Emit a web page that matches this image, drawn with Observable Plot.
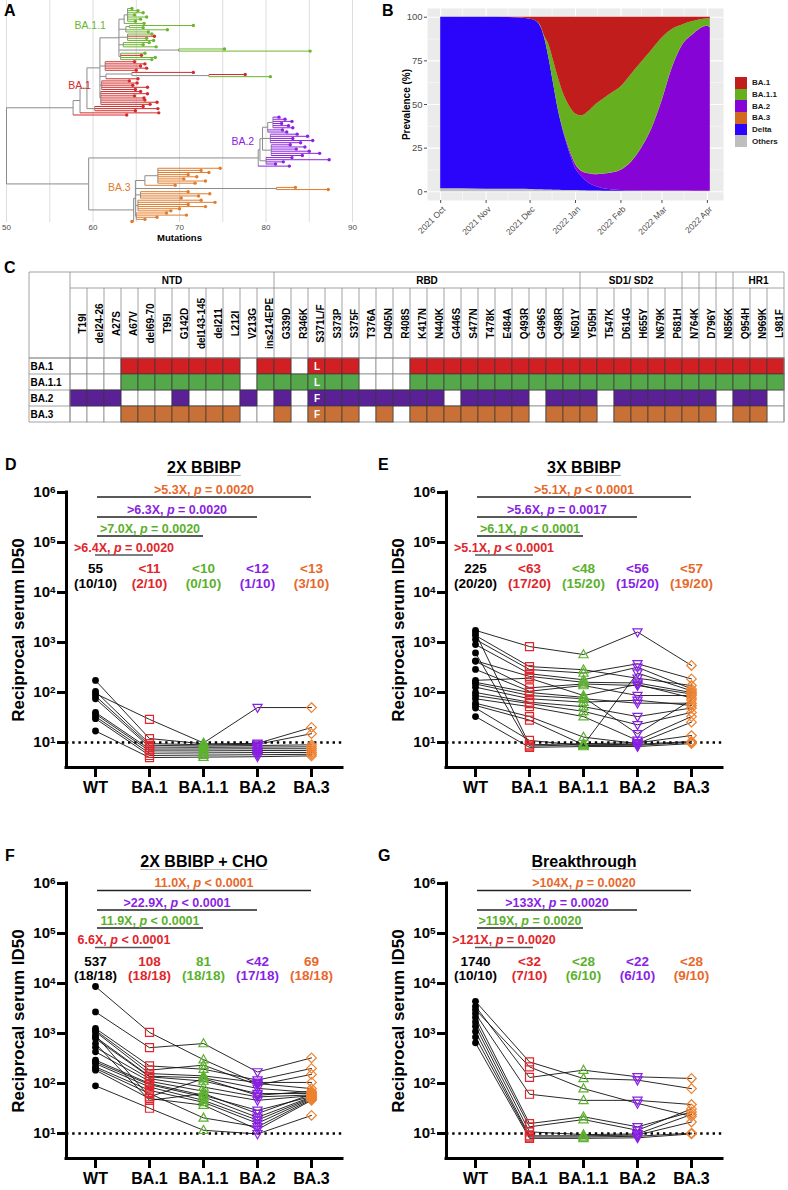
<!DOCTYPE html>
<html>
<head>
<meta charset="utf-8">
<script src="https://cdn.jsdelivr.net/npm/d3@7"></script>
<script src="https://cdn.jsdelivr.net/npm/@observablehq/plot@0.6"></script>
<style>
  html, body { margin: 0; padding: 0; background: #fff; }
  #page { position: relative; width: 788px; height: 1190px; overflow: hidden; font-family: "Liberation Sans", Arial, Helvetica, sans-serif; }
  .letter { position: absolute; font-weight: bold; font-size: 16px; line-height: 16px; color: #000; }
  .legend { position: absolute; left: 735px; top: 77px; }
  .legend .row { display: flex; align-items: center; height: 11.7px; }
  .legend .key { width: 12px; height: 11.7px; }
  .legend .lab { margin-left: 5px; font-size: 8px; font-weight: bold; color: #1a1a1a; }
</style>
</head>
<body>
<div id="page"></div>
<script>
const FONT = "'Liberation Sans', Arial, Helvetica, sans-serif";

// ================= DATA =================
// ---- Panel A: phylogeny (x = number of mutations; nested clades) ----
const TREE_BA11 = [63.0,
  [63.6, [64.0, 64.5, 65.2, 65.8, 64.8, 66.2, 65.5, 64.9], 65.9],
  [63.8, [64.2, 71.6, 65.8], 68.6, 66.4],
  [64.0, 66.8, {clade: "BA.1", t: 67.1}, 66.2, 67.0],
  [63.5, 66.5, 65.8, 67.3],
  [69.9, 75.2, 85.1],
  [63.2, 66.0, {clade: "BA.1", t: 65.6}, 67.2, 66.8]
];
const TREE_BA1 = [60.8,
  {clade: "BA.1.1", main: true, t: TREE_BA11},
  [61.4, 64.8, 66.0, 65.5, 66.2, 65.0],
  [61.5, [64.5, 71.6, [73.4, 77.6, {clade: "BA.1.1", t: 80.5}]], 65.2],
  [61.0, 64.2, 65.1, 64.6, 66.3, 64.9],
  [60.9, 65.5, 66.3, 64.8, 65.9, 66.0, 67.4, 66.6]
];
const TREE_BA2 = [79.1,
  [79.3,
    [79.6,
      [80.2, [80.8, 81.5, 82.2, 83.0, 81.8, 82.6, 83.1], 81.9, 82.4],
      [80.5, 83.6, 84.8, 83.1, 85.4, 84.0],
      [80.6, 82.8, 84.5, 83.5, 85.0, 86.2, 84.2]],
    [80.0, 83.0, 87.3, 82.0, 81.1]],
  82.7
];
const TREE_BA3 = [64.7,
  [64.9,
    [66.0, [67.5, 74.7, 72.5, 73.4, 71.0, 72.0, 70.5, 73.0, 71.8], 69.5],
    [65.8, [81.2, 83.4, 87.2]],
    [65.5, 71.0, 73.5, 72.2, 70.2],
    [65.2, 72.5, 74.1, 71.0, 73.0, 70.0, 69.0],
    [65.0, 68.5, 70.8, 67.4, 66.0]],
  64.5
];
const TREE = [50.0,
  [57.7,
    [58.5,
      [59.3, {clade: "BA.1", main: true, t: TREE_BA1}, {clade: "BA.1", t: [60.2, 65.8, 67.5, 64.9]}],
      {clade: "BA.1", t: 67.6}],
    {clade: "BA.1", t: 63.9}],
  [59.5, {clade: "BA.2", main: true, t: TREE_BA2}, {clade: "BA.3", main: true, t: TREE_BA3}]
];
const MUT_TICKS = [50, 60, 70, 80, 90];
const MUT_GRID = [50, 55, 60, 65, 70, 75, 80, 85, 90];

// ---- Panel B: prevalence (%) ----
const B_DATES = ["2021-10-01","2021-10-15","2021-11-01","2021-11-15","2021-11-25","2021-12-01","2021-12-05","2021-12-08","2021-12-11","2021-12-14","2021-12-17","2021-12-20","2021-12-23","2021-12-26","2021-12-29","2022-01-01","2022-01-05","2022-01-10","2022-01-15","2022-01-20","2022-01-25","2022-02-01","2022-02-08","2022-02-15","2022-02-22","2022-03-01","2022-03-08","2022-03-15","2022-03-22","2022-04-01","2022-04-03"];
const B_OTHERS = [1.8,1.7,1.5,1.5,1.4,1.3,1.2,1.1,1.0,1.0,0.9,0.9,0.8,0.8,0.7,0.7,0.6,0.5,0.4,0.3,0.3,0.3,0.3,0.3,0.3,0.3,0.3,0.3,0.3,0.3,0.3];
const B_DELTA  = [98.2,98.3,98.5,98.4,98.2,97.5,96.6,93.9,87.0,75.0,61.1,47.1,36.2,27.2,19.3,12.8,8.4,4.5,2.6,1.5,0.9,0.5,0.3,0.2,0.2,0.1,0.1,0.1,0,0,0];
const B_BA2    = [0,0,0,0,0,0,0,0,0,0,0,0.3,0.5,1.1,1.7,2.3,2.8,5.3,6.8,8.2,9.4,11.5,16.2,24.3,35.3,51.4,70.4,83.4,89.5,94.5,93.5];
const B_BA3    = [0,0,0,0,0,0,0,0,0,0,0,0,0.1,0.1,0.1,0.2,0.2,0.2,0.2,0.2,0.2,0.2,0.2,0.2,0.2,0.2,0.2,0.2,0.2,0.2,0.2];
const B_BA11   = [0,0,0,0,0,0,0,0.5,1.0,8.0,13.0,17.7,20.4,22.8,25.7,28.5,31.5,35.5,40.0,42.8,45.2,47.5,50.0,49.0,45.0,36.0,22.0,11.5,7.5,4.0,5.0];
const B_BA1    = [0,0,0,0.1,0.4,1.2,2.2,4.5,11.0,16.0,25.0,34.0,42.0,48.0,52.5,55.5,56.5,54.0,50.0,47.0,44.0,40.0,33.0,26.0,19.0,12.0,7.0,4.5,2.5,1.0,1.0];
const B_STACK = ["Others","Delta","BA.2","BA.3","BA.1.1","BA.1"];
const B_LEGEND = ["BA.1","BA.1.1","BA.2","BA.3","Delta","Others"];
const B_MONTHS = ["2021-10-01","2021-11-01","2021-12-01","2022-01-01","2022-02-01","2022-03-01","2022-04-01"];
const B_MINOR = ["2021-10-16","2021-11-16","2021-12-16","2022-01-16","2022-02-15","2022-03-16"];

// ---- Panel C: spike mutations ----
const MUTATIONS = ["T19I","del24-26","A27S","A67V","del69-70","T95I","G142D","del143-145","del211","L212I","V213G","ins214EPE",
  "G339D","R346K","S371L/F","S373P","S375F","T376A","D405N","R408S","K417N","N440K","G446S","S477N","T478K","E484A","Q493R","G496S","Q498R","N501Y",
  "Y505H","T547K","D614G","H655Y","N679K","P681H","N764K","D796Y","N856K","Q954H","N969K","L981F"];
const REGIONS = ["NTD","RBD","SD1/ SD2","","","","HR1"];
const REGION_SIZES = [12, 18, 6, 1, 1, 1, 3];
const TBL_ROWS = ["BA.1","BA.1.1","BA.2","BA.3"];
const TBL_BA1  = "000111111101" + "101110001111111111" + "111111" + "111" + "111";
const TBL_BA11 = "000111111101" + "111110001111111111" + "111111" + "111" + "111";
const TBL_BA2  = "111000100010" + "101111111101111011" + "101111" + "110" + "110";
const TBL_BA3  = "000111111100" + "101110101111111011" + "101111" + "110" + "110";
const TBL_S371 = ["L","L","F","F"];

// ---- Panels D-G: reciprocal serum ID50 ----
const VARIANTS = ["WT","BA.1","BA.1.1","BA.2","BA.3"];
const D_WT   = [95, 174, 105, 85, 75, 40, 37, 33, 30, 17];
const D_BA1  = [29, 12, 9.5, 8.8, 8.1, 7.4, 6.8, 6.1, 5.5, 5.0];
const D_BA11 = [9.8, 9.4, 9.0, 8.5, 8.0, 7.4, 6.8, 6.2, 5.6, 5.1];
const D_BA2  = [50, 9.6, 9.2, 8.7, 8.1, 7.5, 6.9, 6.3, 5.7, 5.2];
const D_BA3  = [50, 20, 15, 9.0, 8.2, 7.5, 6.9, 6.3, 5.8, 5.4];
const D_GMT  = ["55","<11","<10","<12","<13"];
const D_POS  = ["(10/10)","(2/10)","(0/10)","(1/10)","(3/10)"];
const D_FOLD = [">6.4X",">7.0X",">6.3X",">5.3X"];
const D_P    = ["= 0.0020","= 0.0020","= 0.0020","= 0.0020"];

const E_WT   = [1750,1550,1380,1150,910,620,430,420,290,175,160,148,128,100,87,75,61,55,49,33];
const E_BA1  = [830,9,330,288,237,8.5,210,124,106,193,100,87,75,64,60,52,33,28,11,8];
const E_BA11 = [575,9.5,285,245,180,9,160,148,138,87,80,75,64,52,42,33,12.8,9,8.7,8.3];
const E_BA2  = [1620,9.8,193,375,320,245,155,138,87,145,14.9,61,70,33,22.6,11,9.5,9.2,8.8,8.3];
const E_BA3  = [347,13.8,138,187,118,108,100,93,87,78,71,61,55,49,40,33,25.5,10.5,10.1,9.5];
const E_GMT  = ["225","<63","<48","<56","<57"];
const E_POS  = ["(20/20)","(17/20)","(15/20)","(15/20)","(19/20)"];
const E_FOLD = [">5.1X",">6.1X",">5.6X",">5.1X"];
const E_P    = ["< 0.0001","< 0.0001","= 0.0017","< 0.0001"];

const F_WT   = [8700,2700,1260,1150,1080,930,850,790,630,530,430,293,270,250,215,200,185,90];
const F_BA1  = [1050,520,225,185,158,54,140,136,46,125,111,100,95,85,73,63,50,32];
const F_BA11 = [300,630,193,233,142,125,130,112,63,85,70,58,54,46,42,20.5,37,11.6];
const F_BA2  = [100,170,117,93,105,58,80,63,25,54,46,29,21,18.5,16,13.6,12,9.8];
const F_BA3  = [79,325,200,152,105,70,66,63,61,59,57,55,54,52,50,48,46,23];
const F_GMT  = ["537","108","81","<42","69"];
const F_POS  = ["(18/18)","(18/18)","(18/18)","(17/18)","(18/18)"];
const F_FOLD = ["6.6X","11.9X",">22.9X","11.0X"];
const F_P    = ["< 0.0001","< 0.0001","< 0.0001","< 0.0001"];

const G_WT   = [4400,3500,3000,2500,2100,1700,1400,1100,850,650];
const G_BA1  = [270,132,215,61,15.8,13.6,10.8,9,8.5,8];
const G_BA11 = [126,185,79,46,21.6,19,9.5,9,8.5,8];
const G_BA2  = [117,136,40,46,13.6,11.6,9.8,9.3,8.8,8.2];
const G_BA3  = [79,126,22,38,27,31,24,17,10.2,9.8];
const G_GMT  = ["1740","<32","<28","<22","<28"];
const G_POS  = ["(10/10)","(7/10)","(6/10)","(6/10)","(9/10)"];
const G_FOLD = [">121X",">119X",">133X",">104X"];
const G_P    = ["= 0.0020","= 0.0020","= 0.0020","= 0.0020"];

// ================= STYLE =================
const TREE_COL = {"BA.1": "#d42a2a", "BA.1.1": "#6cb52f", "BA.2": "#8b22dd", "BA.3": "#e07c2b"};
const B_COL = {"BA.1": "#c11d1d", "BA.1.1": "#66b01f", "BA.2": "#8605d6", "BA.3": "#d2691e", "Delta": "#2b05fa", "Others": "#bebebe"};
const TBL_COL = {"BA.1": "#d21f24", "BA.1.1": "#55a84a", "BA.2": "#5a2096", "BA.3": "#c87035"};
const VCOL = {"WT": "#000000", "BA.1": "#e3262c", "BA.1.1": "#5cb22e", "BA.2": "#8b1ee6", "BA.3": "#ee8130"};
const VTXT = {"WT": "#000000", "BA.1": "#e0262c", "BA.1.1": "#5bb12d", "BA.2": "#8a1fe5", "BA.3": "#e8682b"};
const BASE_STYLE = {fontFamily: FONT, maxWidth: "none", overflow: "visible", background: "transparent"};
const page = document.getElementById("page");

function mount(svg, left, top) {
  const d = document.createElement("div");
  d.style.cssText = `position:absolute;left:${left}px;top:${top}px;`;
  d.appendChild(svg);
  page.appendChild(d);
}
function letter(ch, left, top) {
  const d = document.createElement("div");
  d.className = "letter"; d.textContent = ch;
  d.style.left = left + "px"; d.style.top = top + "px";
  page.appendChild(d);
}

// ================= PANEL A =================
const segsA = [], leavesA = [], mainsA = [];
function layTree(node, ctx) {
  if (typeof node === "number") {
    const row = leavesA.length;
    leavesA.push({x: node, row, clade: ctx.clade, main: ctx.main});
    return {x: node, y: row, leaf: true, clade: ctx.clade};
  }
  if (!Array.isArray(node)) {
    const c = {clade: node.clade, main: node.main ? node.clade : ctx.main};
    const r = layTree(node.t, c);
    if (node.main) mainsA.push({clade: node.clade, x: r.x});
    return r;
  }
  const x = node[0];
  const kids = node.slice(1).map(k => layTree(k, ctx));
  kids.forEach(k => segsA.push({x1: x, x2: k.x, y1: k.y, y2: k.y, clade: k.leaf ? k.clade : null}));
  segsA.push({x1: x, x2: x, y1: kids[0].y, y2: kids[kids.length - 1].y, clade: null});
  return {x, y: (kids[0].y + kids[kids.length - 1].y) / 2, leaf: false};
}
layTree(TREE, {clade: null, main: null});
const CLADE_LABEL_POS = {"BA.1.1": [0.34, -13], "BA.1": [0.55, -9], "BA.2": [0.5, -4], "BA.3": [0.37, -3]};
const labelMarksA = mainsA.map(m => {
  const rows = leavesA.filter(l => l.main === m.clade).map(l => l.row);
  const [f, dx] = CLADE_LABEL_POS[m.clade];
  const yv = d3.min(rows) + f * (d3.max(rows) - d3.min(rows));
  return Plot.text([m], {x: "x", y: () => yv, text: "clade", fill: TREE_COL[m.clade], dx, textAnchor: "end", fontSize: 10.5});
});
const svgA = Plot.plot({
  width: 395, height: 245, marginLeft: 0, marginRight: 0, marginTop: 0, marginBottom: 23,
  x: {domain: [50, 90], range: [6, 352]},
  y: {domain: [0, leavesA.length - 1], range: [8, 221], axis: null},
  color: {type: "identity"},
  style: BASE_STYLE,
  marks: [
    Plot.ruleX(MUT_GRID, {stroke: "#d4d4d4", strokeWidth: 0.8}),
    Plot.link(segsA.filter(s => !s.clade), {x1: "x1", y1: "y1", x2: "x2", y2: "y2", stroke: "#8c8c8c", strokeWidth: 1}),
    Plot.link(segsA.filter(s => s.clade), {x1: "x1", y1: "y1", x2: "x2", y2: "y2", stroke: d => TREE_COL[d.clade], strokeWidth: 1}),
    Plot.dot(leavesA, {x: "x", y: "row", r: 1.7, fill: d => TREE_COL[d.clade]}),
    ...labelMarksA,
    Plot.axisX(MUT_TICKS, {tickSize: 0, tickPadding: 1.5, fontSize: 8, color: "#4a4a4a", label: null}),
    Plot.text(["Mutations"], {x: () => d3.mean(d3.extent(MUT_TICKS)), text: d => d, frameAnchor: "bottom", dy: 18.5, fontSize: 9.5, fontWeight: "bold"})
  ]
});
mount(svgA, 0, 0);
letter("A", 4, 3);

// ================= PANEL B =================
const parseD = s => new Date(s + "T00:00:00Z");
const B_SERIES = {"Others": B_OTHERS, "Delta": B_DELTA, "BA.2": B_BA2, "BA.3": B_BA3, "BA.1.1": B_BA11, "BA.1": B_BA1};
const longB = [];
B_DATES.forEach((ds, i) => {
  const date = parseD(ds);
  B_STACK.forEach(v => longB.push({date, variant: v, value: B_SERIES[v][i]}));
});
const monthsB = B_MONTHS.map(parseD), minorB = B_MINOR.map(parseD);
const fmtB = d3.utcFormat("%Y %b");
const svgB = Plot.plot({
  width: 388, height: 245, marginLeft: 27, marginRight: 65, marginTop: 8, marginBottom: 45,
  x: {type: "utc", domain: [parseD("2021-09-22"), parseD("2022-04-12")]},
  y: {domain: [-5, 105]},
  color: {domain: B_LEGEND, range: B_LEGEND.map(v => B_COL[v])},
  style: BASE_STYLE,
  marks: [
    Plot.frame({fill: "#ebebeb"}),
    Plot.gridY([12.5, 37.5, 62.5, 87.5], {stroke: "white", strokeOpacity: 1, strokeWidth: 0.5}),
    Plot.gridX(minorB, {stroke: "white", strokeOpacity: 1, strokeWidth: 0.5}),
    Plot.gridY([0, 25, 50, 75, 100], {stroke: "white", strokeOpacity: 1, strokeWidth: 1.1}),
    Plot.gridX(monthsB, {stroke: "white", strokeOpacity: 1, strokeWidth: 1.1}),
    Plot.areaY(longB, {x: "date", y: "value", z: "variant", fill: "variant", order: B_STACK, curve: "monotone-x"}),
    Plot.axisY([0, 25, 50, 75, 100], {tickSize: 3, tickPadding: 2, fontSize: 9.5, color: "#4d4d4d", label: null}),
    Plot.axisX(monthsB, {tickSize: 3, tickFormat: () => "", color: "#4d4d4d", label: null}),
    Plot.text(monthsB, {x: d => d, text: d => fmtB(d), frameAnchor: "bottom", rotate: -45, textAnchor: "end", lineAnchor: "top", dy: 5, dx: 1, fontSize: 8.5, fill: "#4d4d4d"}),
    Plot.text(["Prevalence (%)"], {text: d => d, frameAnchor: "left", dx: -21, rotate: -90, textAnchor: "middle", fontSize: 10, fontWeight: "bold"})
  ]
});
mount(svgB, 400, 0);
letter("B", 382, 3);
{
  const lg = document.createElement("div");
  lg.className = "legend";
  B_LEGEND.forEach(v => {
    const r = document.createElement("div"); r.className = "row";
    const k = document.createElement("div"); k.className = "key"; k.style.background = B_COL[v];
    const l = document.createElement("div"); l.className = "lab"; l.textContent = v;
    r.appendChild(k); r.appendChild(l); lg.appendChild(r);
  });
  page.appendChild(lg);
}

// ================= PANEL C =================
const TBL = {"BA.1": TBL_BA1, "BA.1.1": TBL_BA11, "BA.2": TBL_BA2, "BA.3": TBL_BA3};
const allCells = [], onCells = [], letterCells = [];
TBL_ROWS.forEach((r, ri) => MUTATIONS.forEach((m, i) => {
  allCells.push({m, r});
  if (TBL[r][i] === "1") onCells.push({m, r});
  if (m === "S371L/F") letterCells.push({m, r, t: TBL_S371[ri]});
}));
const svgC = Plot.plot({
  width: 788, height: 172, marginLeft: 67, marginRight: 2, marginTop: 96, marginBottom: 11.7,
  x: {domain: MUTATIONS, padding: 0, axis: null},
  y: {domain: TBL_ROWS, padding: 0, axis: null},
  color: {type: "identity"},
  style: BASE_STYLE,
  marks: [
    Plot.cell(allCells, {x: "m", y: "r", fill: "white", stroke: "#8a8a8a", strokeWidth: 0.8}),
    Plot.cell(onCells, {x: "m", y: "r", fill: d => TBL_COL[d.r], stroke: "#3a3a3a", strokeWidth: 0.7}),
    Plot.text(letterCells, {x: "m", y: "r", text: "t", fill: "white", fontSize: 10, fontWeight: "bold"}),
    Plot.text(MUTATIONS, {x: d => d, text: d => d, frameAnchor: "top", dy: -35, rotate: -90, textAnchor: "middle", fontSize: 10, fontWeight: "bold"}),
    Plot.text(TBL_ROWS, {y: d => d, text: d => d, frameAnchor: "left", dx: -37, textAnchor: "start", fontSize: 10, fontWeight: "bold"})
  ]
});
mount(svgC, 0, 262);
letter("C", 4, 260);
{
  const sx = svgC.scale("x"), sy = svgC.scale("y");
  const bw = sx.bandwidth, bh = sy.bandwidth;
  const xs = i => sx.apply(MUTATIONS[i]);
  const xL = 29, xC = xs(0), xE = xs(MUTATIONS.length - 1) + bw;
  const yT = 10, yH = 26, yF = sy.apply(TBL_ROWS[0]), yB = sy.apply(TBL_ROWS[TBL_ROWS.length - 1]) + bh;
  const g = d3.select(svgC).append("g").attr("stroke", "#8a8a8a").attr("stroke-width", 0.8).attr("fill", "none");
  const ln = (x1, y1, x2, y2) => g.append("line").attr("x1", x1).attr("y1", y1).attr("x2", x2).attr("y2", y2);
  ln(xL, yT, xE, yT); ln(xL, yT, xL, yB); ln(xE, yT, xE, yB); ln(xC, yT, xC, yB);
  ln(xL, yB, xC, yB); ln(xC, yH, xE, yH); ln(xL, yF, xE, yF);
  for (let i = 1; i < MUTATIONS.length; i++) ln(xs(i), yH, xs(i), yF);
  TBL_ROWS.forEach(r => ln(xL, sy.apply(r), xC, sy.apply(r)));
  const gt = d3.select(svgC).append("g").attr("font-family", FONT).attr("font-weight", "bold").attr("font-size", 10).attr("text-anchor", "middle");
  let start = 0;
  REGIONS.forEach((name, k) => {
    const n = REGION_SIZES[k];
    const x0 = xs(start), x1 = xs(start + n - 1) + bw;
    if (start + n < MUTATIONS.length) ln(x1, yT, x1, yH);
    gt.append("text").attr("x", (x0 + x1) / 2).attr("y", (yT + yH) / 2).attr("dy", "0.35em").text(name);
    start += n;
  });
}

// ================= PANELS D-G =================
const SYM = {
  square: {draw(c, s) { const h = Math.sqrt(s / Math.PI); c.moveTo(-h, -h); c.lineTo(h, -h); c.lineTo(h, h); c.lineTo(-h, h); c.closePath(); }},
  up: {draw(c, s) { const h = Math.sqrt(s / Math.PI); c.moveTo(0, -h * 1.05); c.lineTo(h, h * 0.7); c.lineTo(-h, h * 0.7); c.closePath(); }},
  down: {draw(c, s) { const h = Math.sqrt(s / Math.PI); c.moveTo(0, h * 1.05); c.lineTo(h, -h * 0.7); c.lineTo(-h, -h * 0.7); c.closePath(); }},
  diamond: {draw(c, s) { const h = Math.sqrt(s / Math.PI); c.moveTo(0, -h); c.lineTo(h, 0); c.lineTo(0, h); c.lineTo(-h, 0); c.closePath(); }}
};
const SYMBOL_OF = {"BA.1": [SYM.square, 4.0], "BA.1.1": [SYM.up, 4.6], "BA.2": [SYM.down, 4.6], "BA.3": [SYM.diamond, 4.8]};
const L = {width: 385, height: 390, ml: 66, mr: 43, mt: 52, mb: 63};
const LAYOUT_TOP = {bracket: {"BA.1": 63, "BA.1.1": 44, "BA.2": 25, "BA.3": 5}, gmt1: 80.5, gmt2: 95, title: -19};
const LAYOUT_BOT = {bracket: {"BA.1": 64.5, "BA.1.1": 45, "BA.2": 27, "BA.3": 7.5}, gmt1: 82, gmt2: 96.5, title: -16};

function dotPanel(cfg) {
  const long = [];
  cfg.values.forEach((arr, vi) => arr.forEach((val, s) => long.push({s, v: VARIANTS[vi], val})));
  const by = v => long.filter(d => d.v === v);
  const gmt = VARIANTS.map((v, i) => ({v, t1: cfg.gmt[i], t2: cfg.pos[i], c: VTXT[v]}));
  const lay = cfg.lay;
  const symMarks = ["BA.1", "BA.1.1", "BA.2", "BA.3"].map(v =>
    Plot.dot(by(v), {x: "v", y: "val", r: SYMBOL_OF[v][1], symbol: SYMBOL_OF[v][0], fill: "none", stroke: VCOL[v], strokeWidth: 1.2}));
  const svg = Plot.plot({
    width: L.width, height: L.height, marginLeft: L.ml, marginRight: L.mr, marginTop: L.mt, marginBottom: L.mb,
    x: {type: "point", domain: VARIANTS, range: [95, 311], padding: 0},
    y: {type: "log", domain: [Math.pow(10, 0.5), 1e6]},
    color: {type: "identity"},
    style: BASE_STYLE,
    marks: [
      Plot.ruleY([10], {stroke: "#000", strokeWidth: 2.4, strokeDasharray: "2.4,3.8"}),
      Plot.line(long, {x: "v", y: "val", z: "s", stroke: "#111", strokeWidth: 0.9}),
      Plot.dot(by("WT"), {x: "v", y: "val", r: 3.4, fill: "#000"}),
      ...symMarks,
      Plot.ruleY([Math.pow(10, 0.5)], {stroke: "#000", strokeWidth: 3, strokeLinecap: "square"}),
      Plot.ruleX(["WT"], {dx: -29, stroke: "#000", strokeWidth: 3, strokeLinecap: "square"}),
      Plot.axisY([1e1, 1e2, 1e3, 1e4, 1e5, 1e6], {tickSize: 9, tickPadding: 2, strokeWidth: 3, fontSize: 15, fontWeight: "bold",
        tickFormat: d => "10^" + Math.round(Math.log10(d)), label: null}),
      Plot.axisX({tickSize: 10, tickPadding: 4, strokeWidth: 3, fontSize: 16, fontWeight: "bold", label: null}),
      Plot.text(["Reciprocal serum ID50"], {text: d => d, frameAnchor: "left", dx: -48, rotate: -90, textAnchor: "middle", fontSize: 17, fontWeight: "bold"}),
      Plot.text(gmt, {x: "v", text: "t1", fill: "c", frameAnchor: "top", dy: lay.gmt1, lineAnchor: "bottom", fontSize: 13.5, fontWeight: "bold"}),
      Plot.text(gmt, {x: "v", text: "t2", fill: "c", frameAnchor: "top", dy: lay.gmt2, lineAnchor: "bottom", fontSize: 13.5, fontWeight: "bold"})
    ]
  });
  mount(svg, cfg.left, cfg.top);
  letter(cfg.id, cfg.letterLeft, cfg.top + 17);
  const root = d3.select(svg);
  // superscript exponents on the y ticks
  root.selectAll("text").filter(function() { return this.textContent.includes("^"); }).each(function() {
    const [base, exp] = this.textContent.split("^");
    this.textContent = base;
    d3.select(this).append("tspan").attr("dy", "-0.45em").attr("font-size", "0.66em").text(exp);
  });
  // title
  const cx = (L.ml + L.width - L.mr) / 2, ty = L.mt + lay.title;
  const t = root.append("text").attr("x", cx).attr("y", ty).attr("text-anchor", "middle")
    .attr("font-family", FONT).attr("font-weight", "bold").attr("font-size", 16).text(cfg.title);
  const w = t.node().getComputedTextLength();
  root.append("line").attr("x1", cx - w / 2).attr("x2", cx + w / 2).attr("y1", ty + 2.5).attr("y2", ty + 2.5)
    .attr("stroke", "#b8b8b8").attr("stroke-width", 1);
  // comparison brackets
  const sx = svg.scale("x");
  const g = root.append("g").attr("font-family", FONT).attr("font-weight", "bold").attr("font-size", 12.5).attr("text-anchor", "middle");
  ["BA.1", "BA.1.1", "BA.2", "BA.3"].forEach((v, i) => {
    const y = L.mt + lay.bracket[v];
    const x1 = sx.apply("WT") + (i === 0 ? 0 : 2), x2 = sx.apply(v) + (i === 0 ? 4 : 0);
    g.append("line").attr("x1", x1).attr("x2", x2).attr("y1", y).attr("y2", y).attr("stroke", i === 0 ? "#555" : "#222").attr("stroke-width", 1.5);
    const tx = g.append("text").attr("x", (x1 + x2) / 2).attr("y", y - 3.5).attr("fill", VTXT[v]);
    tx.append("tspan").text(cfg.folds[i] + ", ");
    tx.append("tspan").attr("font-style", "italic").text("p");
    tx.append("tspan").text(" " + cfg.ps[i]);
  });
}

dotPanel({id: "D", left: 0, top: 440, letterLeft: 5, title: "2X BBIBP", lay: LAYOUT_TOP,
  values: [D_WT, D_BA1, D_BA11, D_BA2, D_BA3], gmt: D_GMT, pos: D_POS, folds: D_FOLD, ps: D_P});
dotPanel({id: "E", left: 380, top: 440, letterLeft: 378, title: "3X BBIBP", lay: LAYOUT_TOP,
  values: [E_WT, E_BA1, E_BA11, E_BA2, E_BA3], gmt: E_GMT, pos: E_POS, folds: E_FOLD, ps: E_P});
dotPanel({id: "F", left: 0, top: 831, letterLeft: 5, title: "2X BBIBP + CHO", lay: LAYOUT_BOT,
  values: [F_WT, F_BA1, F_BA11, F_BA2, F_BA3], gmt: F_GMT, pos: F_POS, folds: F_FOLD, ps: F_P});
dotPanel({id: "G", left: 380, top: 831, letterLeft: 378, title: "Breakthrough", lay: LAYOUT_BOT,
  values: [G_WT, G_BA1, G_BA11, G_BA2, G_BA3], gmt: G_GMT, pos: G_POS, folds: G_FOLD, ps: G_P});
</script>
</body>
</html>
